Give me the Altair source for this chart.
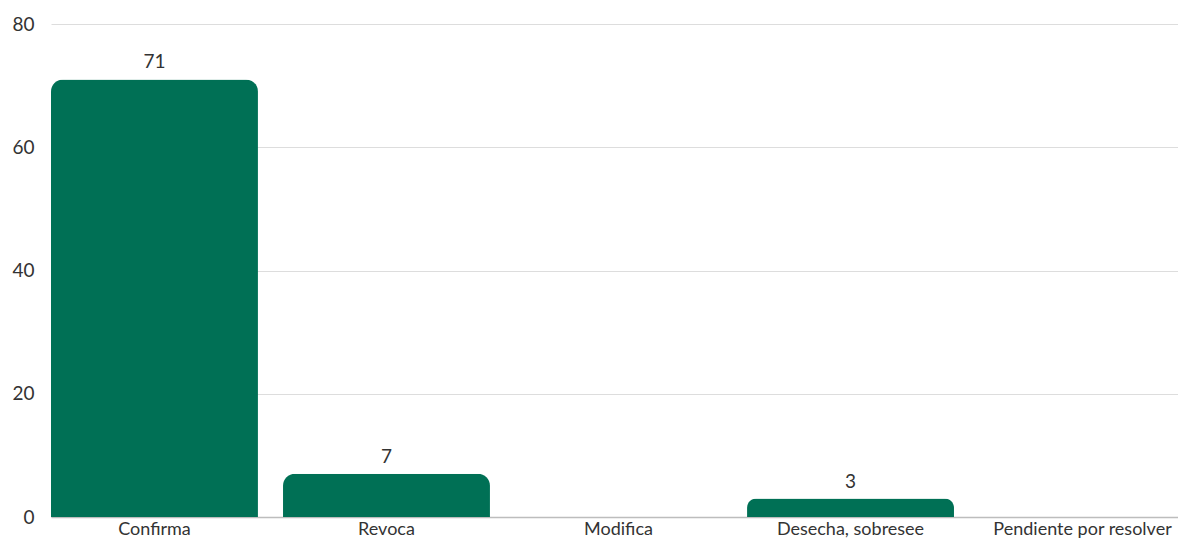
import altair as alt
import pandas as pd

categories = ["Confirma", "Revoca", "Modifica", "Desecha, sobresee", "Pendiente por resolver"]
values = [71, 7, 0, 3, 0]

df = pd.DataFrame({"cat": categories, "val": values})
df["label"] = [str(v) if v > 0 else "" for v in values]

FONT = "Lato"

x = alt.X("cat:N", sort=categories, title=None,
          scale=alt.Scale(paddingInner=0.108, paddingOuter=0, range=[0, 1135]),
          axis=alt.Axis(labelAngle=0, labelFontSize=18, labelColor="#333333", labelFont=FONT,
                        ticks=False, domain=True, domainColor="#bdbdbd", domainWidth=1.5,
                        labelPadding=3, labelLimit=0, grid=False))
y = alt.Y("val:Q", title=None,
          scale=alt.Scale(domain=[0, 80]),
          axis=alt.Axis(values=[0, 20, 40, 60, 80], labelFontSize=19, labelColor="#333333",
                        labelFont=FONT, ticks=False, domain=False, labelPadding=17,
                        gridColor="#dddddd", gridWidth=1.2))

bars = alt.Chart(df).mark_bar(color="#007055", cornerRadiusTopLeft=12,
                              cornerRadiusTopRight=12).encode(x=x, y=y)
text = alt.Chart(df).mark_text(baseline="bottom", dy=-7, fontSize=19, color="#333333",
                               font=FONT).encode(x=x, y=y, text="label:N")

chart = (bars + text).properties(
    width=1127, height=493,
    autosize=alt.AutoSizeParams(type="none"),
    padding={"left": 43, "top": 16, "right": 0, "bottom": 23},
).configure_view(stroke=None)

chart.save("out.html", embed_options={"renderer": "svg", "actions": False})
